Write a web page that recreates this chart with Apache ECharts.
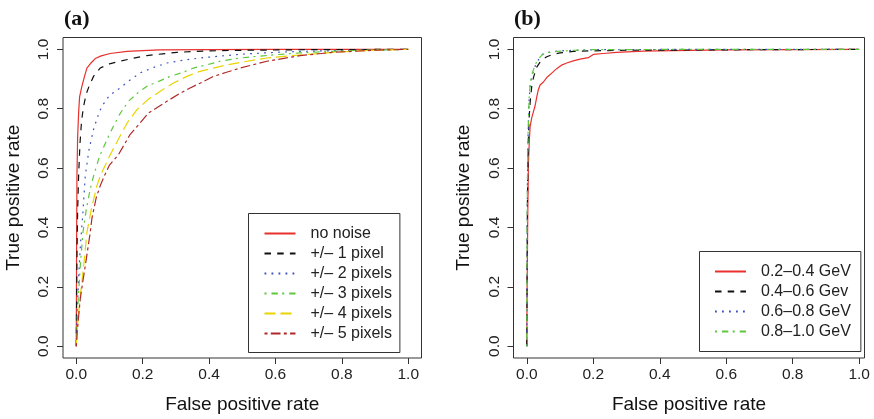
<!DOCTYPE html>
<html>
<head>
<meta charset="utf-8">
<script src="https://cdn.jsdelivr.net/npm/echarts@6/dist/echarts.min.js"></script>
<style>
html,body{margin:0;padding:0;background:#fff;}
#chart{width:874px;height:419px;}
</style>
</head>
<body>
<div id="chart"></div>
<script>
// ---- data ----
const tickValues = [0, 0.2, 0.4, 0.6, 0.8, 1.0];
const panelTitles = ['(a)', '(b)'];
const axisTitleX = 'False positive rate';
const axisTitleY = 'True positive rate';

const namesA = ['no noise', '+/\u2013 1 pixel', '+/\u2013 2 pixels', '+/\u2013 3 pixels', '+/\u2013 4 pixels', '+/\u2013 5 pixels'];
const namesB = ['0.2\u20130.4 GeV', '0.4\u20130.6 Gev', '0.6\u20130.8 GeV', '0.8\u20131.0 GeV'];

// panel (a): [false positive rate, true positive rate]
const noNoise = [[0,0],[0.001,0.35],[0.002,0.57],[0.004,0.7],[0.007,0.786],[0.01,0.84],[0.017,0.876],[0.025,0.91],[0.032,0.937],[0.045,0.955],[0.057,0.969],[0.075,0.978],[0.102,0.986],[0.153,0.993],[0.2,0.996],[0.25,0.998],[0.4,0.999],[0.6,1],[1,1]];
const pix1 = [[0,0],[0.001,0.15],[0.002,0.3],[0.004,0.45],[0.007,0.573],[0.011,0.68],[0.016,0.76],[0.022,0.808],[0.03,0.85],[0.04,0.88],[0.052,0.909],[0.072,0.937],[0.1,0.951],[0.132,0.96],[0.17,0.97],[0.213,0.979],[0.26,0.985],[0.303,0.99],[0.403,0.995],[0.5,0.997],[0.7,0.999],[1,1]];
const pix2 = [[0,0],[0.002,0.08],[0.004,0.15],[0.008,0.25],[0.013,0.35],[0.02,0.45],[0.027,0.573],[0.038,0.66],[0.052,0.73],[0.065,0.775],[0.077,0.808],[0.1,0.845],[0.132,0.87],[0.16,0.895],[0.193,0.921],[0.23,0.938],[0.273,0.954],[0.32,0.963],[0.373,0.971],[0.45,0.979],[0.5,0.984],[0.6,0.99],[0.7,0.994],[0.85,0.997],[1,1]];
const pix3 = [[0,0],[0.002,0.06],[0.004,0.12],[0.007,0.18],[0.012,0.27],[0.02,0.383],[0.03,0.46],[0.042,0.529],[0.052,0.573],[0.07,0.64],[0.09,0.69],[0.107,0.73],[0.13,0.78],[0.157,0.825],[0.185,0.853],[0.213,0.876],[0.25,0.893],[0.283,0.909],[0.32,0.922],[0.353,0.937],[0.4,0.95],[0.433,0.96],[0.494,0.971],[0.55,0.977],[0.6,0.982],[0.674,0.988],[0.8,0.995],[0.9,0.998],[1,1]];
const pix4 = [[0,0],[0.003,0.06],[0.008,0.12],[0.012,0.17],[0.017,0.215],[0.025,0.3],[0.032,0.383],[0.045,0.46],[0.062,0.54],[0.072,0.573],[0.1,0.64],[0.132,0.708],[0.155,0.755],[0.183,0.797],[0.215,0.83],[0.253,0.859],[0.29,0.885],[0.333,0.909],[0.37,0.925],[0.413,0.937],[0.45,0.947],[0.494,0.956],[0.574,0.971],[0.65,0.979],[0.774,0.99],[0.9,0.997],[1,1]];
const pix5 = [[0,0],[0.003,0.05],[0.007,0.1],[0.012,0.159],[0.02,0.22],[0.027,0.27],[0.035,0.33],[0.042,0.383],[0.047,0.43],[0.06,0.5],[0.072,0.54],[0.085,0.575],[0.1,0.61],[0.127,0.645],[0.145,0.68],[0.162,0.713],[0.193,0.753],[0.218,0.786],[0.245,0.805],[0.273,0.825],[0.31,0.85],[0.343,0.87],[0.38,0.89],[0.413,0.909],[0.45,0.922],[0.494,0.937],[0.574,0.96],[0.674,0.979],[0.774,0.99],[0.9,0.997],[1,1]];

// panel (b)
const gev02 = [[0,0],[0.001,0.2],[0.003,0.45],[0.005,0.62],[0.008,0.7],[0.01,0.74],[0.015,0.77],[0.02,0.79],[0.025,0.81],[0.03,0.84],[0.035,0.865],[0.04,0.88],[0.05,0.89],[0.06,0.905],[0.075,0.92],[0.09,0.935],[0.105,0.947],[0.12,0.954],[0.14,0.961],[0.16,0.967],[0.185,0.972],[0.2,0.983],[0.23,0.986],[0.27,0.99],[0.35,0.994],[0.44,0.996],[0.6,0.998],[0.8,0.999],[1,1]];
const gev04 = [[0,0],[0.001,0.3],[0.002,0.5],[0.004,0.65],[0.006,0.75],[0.01,0.82],[0.015,0.876],[0.02,0.905],[0.03,0.94],[0.04,0.957],[0.05,0.968],[0.06,0.975],[0.08,0.984],[0.1,0.988],[0.14,0.993],[0.19,0.995],[0.3,0.997],[0.5,0.998],[0.7,0.999],[1,1]];
const gev06 = [[0,0],[0.001,0.35],[0.002,0.55],[0.004,0.72],[0.007,0.83],[0.01,0.876],[0.015,0.91],[0.025,0.943],[0.035,0.965],[0.045,0.982],[0.055,0.988],[0.07,0.991],[0.1,0.995],[0.15,0.997],[0.2,0.999],[0.5,1],[1,1]];
const gev08 = [[0,0],[0.001,0.36],[0.002,0.56],[0.004,0.73],[0.007,0.835],[0.01,0.88],[0.015,0.915],[0.025,0.948],[0.035,0.968],[0.045,0.98],[0.055,0.987],[0.07,0.99],[0.1,0.994],[0.15,0.997],[0.2,0.999],[0.5,1],[1,1]];

const dataA = [noNoise, pix1, pix2, pix3, pix4, pix5];
const dataB = [gev02, gev04, gev06, gev08];

// ---- styles ----
const SANS = 'Liberation Sans';
const colorsA = ['#e8302c', '#111111', '#3a50c0', '#5cc83c', '#e8d400', '#b02828'];
const colorsB = ['#e8302c', '#111111', '#3a50c0', '#5cc83c'];
const SOLID = 'solid', DASHED = [6.5, 6.2], DOTTED = [1.8, 5.2], DOTDASH = [2, 5, 6.3, 4.4], LONGDASH = [11, 5], TWODASH = [3, 3.3, 9.7, 3.3];
const dashA = [SOLID, DASHED, DOTTED, DOTDASH, LONGDASH, TWODASH];
const dashB = [SOLID, DASHED, DOTTED, DOTDASH];

const chart = echarts.init(document.getElementById('chart'), null, {renderer: 'canvas'});

function mkX(idx, max) {
  return {
    type: 'value', gridIndex: idx, min: -0.04, max: max,
    name: axisTitleX, nameLocation: 'middle', nameGap: 37,
    nameTextStyle: {fontFamily: SANS, fontSize: 19, color: '#111'},
    axisLine: {show: false, onZero: false},
    splitLine: {show: false},
    axisTick: {show: true, inside: false, length: 6, customValues: tickValues, lineStyle: {color: '#333', width: 1}},
    axisLabel: {show: true, margin: 9, customValues: tickValues, fontFamily: SANS, fontSize: 15.5, color: '#222',
      formatter: v => v.toFixed(1)}
  };
}
function mkY(idx) {
  return {
    type: 'value', gridIndex: idx, min: -0.04, max: 1.04,
    name: axisTitleY, nameLocation: 'middle', nameGap: 40,
    nameTextStyle: {fontFamily: SANS, fontSize: 19, color: '#111'},
    axisLine: {show: false, onZero: false},
    splitLine: {show: false},
    axisTick: {show: true, inside: false, length: 6, customValues: tickValues, lineStyle: {color: '#333', width: 1}},
    axisLabel: {show: true, rotate: 90, margin: 11, customValues: tickValues, fontFamily: SANS, fontSize: 15.5, color: '#222',
      formatter: v => v.toFixed(1)}
  };
}

const series = [];
dataA.forEach((d, i) => series.push({
  name: namesA[i], type: 'line', xAxisIndex: 0, yAxisIndex: 0, data: d,
  symbol: 'none', showSymbol: false, smooth: false, silent: true,
  lineStyle: {color: colorsA[i], width: 1.2, type: dashA[i]}, itemStyle: {color: colorsA[i]}
}));
dataB.forEach((d, i) => series.push({
  name: namesB[i], type: 'line', xAxisIndex: 1, yAxisIndex: 1, data: d,
  symbol: 'none', showSymbol: false, smooth: false, silent: true,
  lineStyle: {color: colorsB[i], width: 1.2, type: dashB[i]}, itemStyle: {color: colorsB[i]}
}));

const legendCommon = {
  orient: 'vertical', itemWidth: 31, itemHeight: 14, itemGap: 4,
  borderColor: '#333', borderWidth: 1, backgroundColor: '#fff',
  selectedMode: false,
  itemStyle: {color: 'rgba(0,0,0,0)', borderColor: 'rgba(0,0,0,0)', borderWidth: 0, opacity: 0},
  textStyle: {fontFamily: SANS, fontSize: 16, color: '#222', padding: [0, 0, 0, 10]}
};

const titleStyle = {fontFamily: 'Liberation Serif', fontWeight: 'bold', fontSize: 22, color: '#111'};

chart.setOption({
  animation: false,
  backgroundColor: '#fff',
  title: [
    {text: panelTitles[0], left: 64, top: 8, padding: 0, textStyle: titleStyle},
    {text: panelTitles[1], left: 514, top: 8, padding: 0, textStyle: titleStyle}
  ],
  grid: [
    {left: 63, top: 37.5, width: 358.5, height: 321.8, show: true, borderColor: '#333', borderWidth: 1, backgroundColor: 'transparent', containLabel: false},
    {left: 513.5, top: 37.5, width: 351, height: 321.8, show: true, borderColor: '#333', borderWidth: 1, backgroundColor: 'transparent', containLabel: false}
  ],
  xAxis: [mkX(0, 1.04), mkX(1, 1.016)],
  yAxis: [mkY(0), mkY(1)],
  legend: [
    Object.assign({}, legendCommon, {data: namesA, left: 248.5, top: 213.5, padding: [12, 8, 11, 15]}),
    Object.assign({}, legendCommon, {data: namesB, left: 699.5, top: 251.5, padding: [12, 10, 12, 14.5]})
  ],
  series: series
});
</script>
</body>
</html>
